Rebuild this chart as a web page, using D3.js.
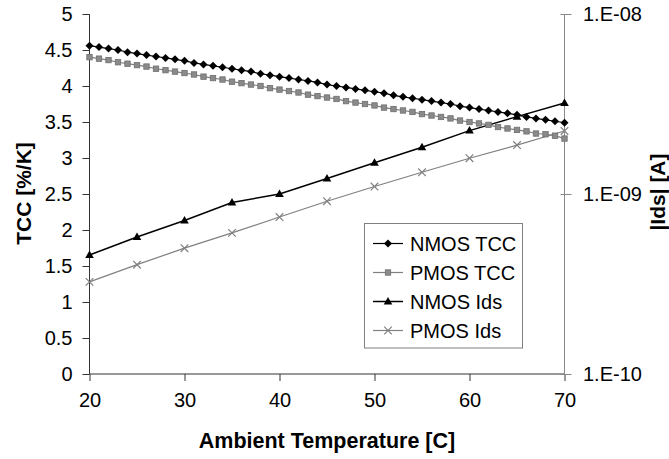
<!DOCTYPE html>
<html>
<head>
<meta charset="utf-8">
<script src="https://cdn.jsdelivr.net/npm/d3@7/dist/d3.min.js"></script>
<style>
  html, body { margin: 0; padding: 0; background: #fff; }
  svg { display: block; font-family: "Liberation Sans", Arial, sans-serif; }
</style>
</head>
<body>
<svg id="chart" width="669" height="459"></svg>
<script>
// ---- data ----
const tempsTCC = d3.range(20, 71, 1);
const nmosTCC = [4.56,4.54,4.52,4.50,4.47,4.45,4.43,4.41,4.39,4.37,
                 4.35,4.32,4.30,4.28,4.26,4.24,4.22,4.20,4.17,4.15,
                 4.13,4.11,4.09,4.07,4.05,4.02,4.00,3.98,3.96,3.94,
                 3.92,3.90,3.87,3.85,3.83,3.81,3.79,3.77,3.75,3.72,
                 3.70,3.68,3.66,3.64,3.62,3.60,3.57,3.55,3.53,3.51,3.49];
const pmosTCC = [4.40,4.38,4.36,4.33,4.31,4.29,4.27,4.24,4.22,4.20,
                 4.18,4.16,4.13,4.11,4.09,4.06,4.04,4.02,4.00,3.97,
                 3.95,3.93,3.91,3.88,3.86,3.84,3.82,3.79,3.77,3.75,
                 3.73,3.70,3.68,3.66,3.64,3.61,3.59,3.57,3.55,3.52,
                 3.50,3.48,3.46,3.43,3.41,3.39,3.37,3.34,3.33,3.31,3.27];
const tempsIds = [20,25,30,35,40,45,50,55,60,65,70];
const nmosIds = [4.58e-10,5.77e-10,7.12e-10,8.96e-10,1.00e-9,1.22e-9,1.49e-9,1.82e-9,2.25e-9,2.69e-9,3.20e-9];
const pmosIds = [3.25e-10,4.05e-10,5.00e-10,6.08e-10,7.45e-10,9.12e-10,1.10e-9,1.32e-9,1.58e-9,1.87e-9,2.24e-9];
const xTicks = [20,30,40,50,60,70];
const yLeftTicks = [0,0.5,1,1.5,2,2.5,3,3.5,4,4.5,5];
const yRightTicks = [1e-10,1e-9,1e-8];
const yRightLabels = ["1.E-10","1.E-09","1.E-08"];
const seriesNames = ["NMOS TCC","PMOS TCC","NMOS Ids","PMOS Ids"];

// ---- layout ----
const L = 89.5, R = 564.5, T = 14, B = 374;
const svg = d3.select("#chart");
const x = d3.scaleLinear().domain([20,70]).range([L,R]);
const yL = d3.scaleLinear().domain([0,5]).range([B,T]);
const yR = d3.scaleLog().domain([1e-10,1e-8]).range([B,T]);

// axes
const gx = svg.append("g").attr("transform",`translate(0,${B})`)
  .call(d3.axisBottom(x).tickValues(xTicks).tickSize(7).tickPadding(12).tickFormat(d3.format("d")));
const gl = svg.append("g").attr("transform",`translate(${L},0)`)
  .call(d3.axisLeft(yL).tickValues(yLeftTicks).tickSize(7).tickPadding(10).tickFormat(d => String(d)));
const gr = svg.append("g").attr("transform",`translate(${R},0)`)
  .call(d3.axisRight(yR).tickValues(yRightTicks).tickSize(7).tickPadding(11.5)
    .tickFormat((d,i) => yRightLabels[i]));
gr.selectAll(".tick line").attr("x1",-4);

[gx, gl].forEach(g => {
  g.select(".domain").attr("stroke","#333").attr("stroke-width",1);
  g.selectAll(".tick line").attr("stroke","#333");
});
gr.select(".domain").attr("stroke","#888");
gr.selectAll(".tick line").attr("stroke","#888");
[gx, gl, gr].forEach(g => {
  g.selectAll("path.domain").attr("d", null);
  g.selectAll(".tick text").attr("font-size",20).attr("fill","#000")
    .attr("font-family","'Liberation Sans', Arial, sans-serif");
});
// redraw domains as plain lines (no end caps)
gx.append("line").attr("x1",L - x(20) + x(20) - L + L).attr("x2",R).attr("y1",0).attr("y2",0).attr("stroke","#333");
gl.append("line").attr("x1",0).attr("x2",0).attr("y1",T).attr("y2",B).attr("stroke","#333");
gr.append("line").attr("x1",0).attr("x2",0).attr("y1",T).attr("y2",B).attr("stroke","#888");
gx.selectAll("line").filter(function(){return this.parentNode===gx.node();}).attr("x1",L);

// lines
const lineTCC = (arr) => d3.line().x((d,i) => x(tempsTCC[i])).y(d => yL(d))(arr);
const lineIds = (arr) => d3.line().x((d,i) => x(tempsIds[i])).y(d => yR(d))(arr);

svg.append("path").attr("d", lineIds(pmosIds)).attr("fill","none").attr("stroke","#808080").attr("stroke-width",1.2);
svg.append("path").attr("d", lineIds(nmosIds)).attr("fill","none").attr("stroke","#000").attr("stroke-width",1.5);
svg.append("path").attr("d", lineTCC(pmosTCC)).attr("fill","none").attr("stroke","#808080").attr("stroke-width",1.2);
svg.append("path").attr("d", lineTCC(nmosTCC)).attr("fill","none").attr("stroke","#000").attr("stroke-width",1.2);

// markers
function diamond(g, cx, cy){ g.append("path").attr("d",`M${cx},${cy-4}L${cx+4},${cy}L${cx},${cy+4}L${cx-4},${cy}Z`).attr("fill","#000"); }
function square(g, cx, cy){ g.append("rect").attr("x",cx-2.7).attr("y",cy-2.7).attr("width",5.4).attr("height",5.4).attr("fill","#8a8a8a").attr("stroke","#6e6e6e").attr("stroke-width",0.8); }
function triangle(g, cx, cy){ g.append("path").attr("d",`M${cx},${cy-4.5}L${cx+4.3},${cy+3}L${cx-4.3},${cy+3}Z`).attr("fill","#000"); }
function cross(g, cx, cy){ g.append("path").attr("d",`M${cx-3.8},${cy-3.8}L${cx+3.8},${cy+3.8}M${cx-3.8},${cy+3.8}L${cx+3.8},${cy-3.8}`).attr("stroke","#808080").attr("stroke-width",1.2).attr("fill","none"); }

const gm = svg.append("g");
pmosIds.forEach((d,i) => cross(gm, x(tempsIds[i]), yR(d)));
nmosIds.forEach((d,i) => triangle(gm, x(tempsIds[i]), yR(d)));
pmosTCC.forEach((d,i) => square(gm, x(tempsTCC[i]), yL(d)));
nmosTCC.forEach((d,i) => diamond(gm, x(tempsTCC[i]), yL(d)));

// axis titles
svg.append("text").attr("x",327).attr("y",447.5).attr("text-anchor","middle")
  .attr("font-size",21.5).attr("font-weight","bold").text("Ambient Temperature [C]");
svg.append("text").attr("transform","translate(30.5,193.5) rotate(-90)").attr("text-anchor","middle")
  .attr("font-size",21).attr("font-weight","bold").text("TCC [%/K]");
svg.append("text").attr("transform","translate(665,192) rotate(-90)").attr("text-anchor","middle")
  .attr("font-size",21).attr("font-weight","bold").text("|Ids| [A]");

// legend
const lg = svg.append("g");
lg.append("rect").attr("x",364.5).attr("y",223.5).attr("width",158).attr("height",124.5)
  .attr("fill","#fff").attr("stroke","#808080").attr("stroke-width",1);
const styles = [
  {c:"#000", m:diamond, w:1.2},
  {c:"#808080", m:square, w:1.2},
  {c:"#000", m:triangle, w:1.5},
  {c:"#808080", m:cross, w:1.2}
];
seriesNames.forEach((name,i) => {
  const cy = 243.5 + i*29;
  lg.append("line").attr("x1",373).attr("x2",403).attr("y1",cy).attr("y2",cy)
    .attr("stroke",styles[i].c).attr("stroke-width",styles[i].w);
  styles[i].m(lg, 388, cy);
  lg.append("text").attr("x",410).attr("y",cy+7.2).attr("font-size",20).text(name);
});
</script>
</body>
</html>
